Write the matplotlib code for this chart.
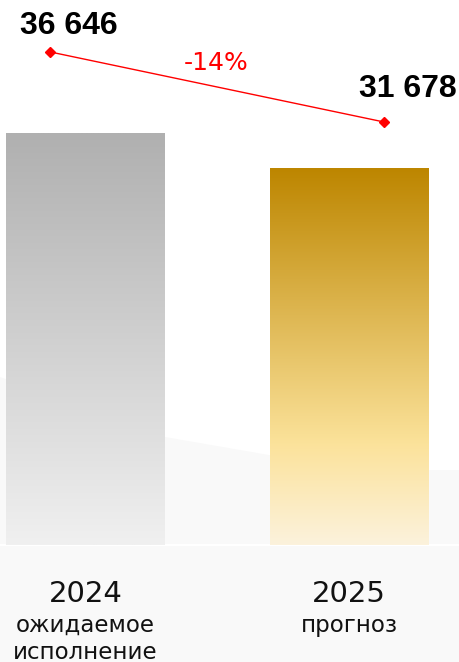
import matplotlib
matplotlib.use('Agg')
import matplotlib.pyplot as plt
import matplotlib.transforms as mtransforms
import numpy as np
from matplotlib.colors import LinearSegmentedColormap
from matplotlib.patches import Polygon

# ---- data ----
years = ["2024", "2025"]
descriptions = [["ожидаемое", "исполнение"], ["прогноз"]]
values = [36646, 31678]
value_labels = ["36 646", "31 678"]

W, H = 459, 662
fig = plt.figure(figsize=(W / 100, H / 100), dpi=100)
fig.patch.set_facecolor('white')

ax = fig.add_axes([0, 0, 1, 1])
ax.patch.set_alpha(0)

# faint background shape
bg_px = [(0, 377), (165, 437), (269, 455), (429, 470), (459, 470), (459, 662), (0, 662)]
poly = Polygon([(px / W, 1 - py / H) for px, py in bg_px], closed=True,
               transform=fig.transFigure, facecolor='#f9f9f9', edgecolor='none',
               zorder=0, clip_on=False)
ax.add_patch(poly)

base = -21834  # axis origin of the bars

x = np.arange(len(values))
bars = ax.bar(x, np.array(values) - base, bottom=base, width=0.603,
              color='none', edgecolor='none', zorder=2)
cmaps = [
    LinearSegmentedColormap.from_list('g', [(0, '#f0f0f0'), (1, '#b0b0b0')]),
    LinearSegmentedColormap.from_list('y', [(0, '#fcf2dc'), (0.27, '#fbe29a'), (1, '#bd8600')]),
]
grad = np.linspace(0, 1, 256).reshape(-1, 1)
for bar, cmap in zip(bars, cmaps):
    x0, y0 = bar.get_x(), bar.get_y()
    w, h = bar.get_width(), bar.get_height()
    im = ax.imshow(grad, cmap=cmap, origin='lower', extent=[x0, x0 + w, y0, y0 + h],
                   aspect='auto', zorder=2, interpolation='bilinear')
    im.set_clip_path(bar)

ax.axhline(base, color='white', lw=1.5, zorder=1)
ax.set_xlim(-0.3245, 1.4175)
ax.set_ylim(-38441, 55526)
ax.axis('off')

# category labels
trans = mtransforms.blended_transform_factory(ax.transData, fig.transFigure)
for xi, yr, desc in zip(x, years, descriptions):
    ax.text(xi, 60 / H, yr, transform=trans, ha='center', va='baseline',
            fontsize=21, color='#111111', family='DejaVu Sans', zorder=3)
    for k, line in enumerate(desc):
        ax.text(xi, (30 - 27 * k) / H, line, transform=trans, ha='center', va='baseline',
                fontsize=16.5, color='#111111', family='DejaVu Sans', zorder=3)

# change line
ax2 = ax.twinx()
ax2.set_ylim(-6647, 40337)
ax2.axis('off')
d = 0.133
line_x = [x[0] - d, x[1] + d]
ax2.plot(line_x, values, color='#ff0000', lw=1, marker='D', markersize=5, zorder=5)

num_font = ['Liberation Sans', 'DejaVu Sans']
offsets = [(13, 19), (17, 24)]
for lx, v, lab, off in zip(line_x, values, value_labels, offsets):
    ax2.annotate(lab, (lx, v), xytext=off, textcoords='offset points',
                 ha='center', va='center', fontsize=23, fontweight='bold',
                 family=num_font, color='black')

pct = round((values[1] / values[0] - 1) * 100)
ax2.annotate(f"{pct}%", (np.mean(line_x), np.mean(values)), xytext=(-1, 17.3),
             textcoords='offset points', ha='center', va='center',
             fontsize=18, color='#ff0000', family='DejaVu Sans')

fig.savefig('out.png', dpi=100)
